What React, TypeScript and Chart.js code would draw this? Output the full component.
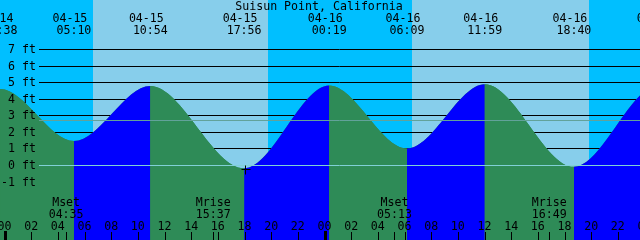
import React, { useEffect, useRef } from 'react';
import { Chart, registerables } from 'chart.js';

Chart.register(...registerables);

// ---------- data ----------
const stationName = 'Suisun Point, California';
// high / low tide events (first and last lie just outside the visible window)
const tideTimes = [
  '04-14 17:12', '04-14 23:38', '04-15 05:10', '04-15 10:54', '04-15 17:56',
  '04-16 00:19', '04-16 06:09', '04-16 11:59', '04-16 18:40', '04-17 00:59', '04-17 07:05',
];
const tideLevels = [-0.25, 4.62, 1.48, 4.8, -0.17, 4.83, 1.03, 4.91, -0.08, 4.8, 0.65];
const sunriseTimes = ['04-15 06:35', '04-16 06:32'];
const sunsetTimes = ['04-15 19:43', '04-16 19:47'];
const moonLabels = ['Mset', 'Mrise', 'Mset', 'Mrise'];
const moonTimes = ['04-15 04:35', '04-15 15:37', '04-16 05:13', '04-16 16:49'];
const levelTicks = [-1, 0, 1, 2, 3, 4, 5, 6, 7];
const tickDays = ['04-15', '04-16', '04-17'];
const hourLabels = ['00', '02', '04', '06', '08', '10', '12', '14', '16', '18', '20', '22'];
const markerTimes = ['04-15 17:56'];
const mslLevel = 2.72;
const datumLevel = 0;
const viewStart = -0.375; // hours from 04-15 00:00
const viewSpan = 48;
const yMin = -4.496;
const yMax = 9.987;

// ---------- style ----------
const W = 640;
const H = 240;
const NIGHT = '#00bfff';
const DAY = '#87ceeb';
const RISE = '#0000ff';
const FALL = '#2e8b57';
const MSL_COLOR = '#62a29a';
const DATUM_COLOR = '#80d0d6';
const FONT = '11.6px "DejaVu Sans Mono", monospace';
const LINE_X0 = 39;

function toHours(s: string): number {
  const [md, hm] = s.split(' ');
  const day = Number(md.split('-')[1]);
  const [h, m] = hm.split(':').map(Number);
  return (day - 15) * 24 + h + m / 60;
}

const tidePoints = tideTimes.map((t, i) => ({ x: toHours(t), y: tideLevels[i] }));

const decorPlugin = {
  id: 'tideDecor',
  beforeDatasetsDraw(chart: any) {
    const { ctx, chartArea: a, scales } = chart;
    const xs = scales.x;
    const ys = scales.y;
    ctx.save();
    ctx.fillStyle = NIGHT;
    ctx.fillRect(a.left, a.top, a.right - a.left, a.bottom - a.top);
    ctx.fillStyle = DAY;
    sunriseTimes.forEach((sr, i) => {
      const x0 = Math.round(xs.getPixelForValue(toHours(sr)));
      const x1 = Math.round(xs.getPixelForValue(toHours(sunsetTimes[i])));
      ctx.fillRect(x0, a.top, x1 - x0, a.bottom - a.top);
    });
    ctx.strokeStyle = '#000';
    ctx.lineWidth = 1;
    levelTicks.forEach((v) => {
      const py = Math.floor(ys.getPixelForValue(v)) + 0.5;
      ctx.beginPath();
      ctx.moveTo(LINE_X0, py);
      ctx.lineTo(a.right, py);
      ctx.stroke();
    });
    ctx.restore();
  },
  afterDatasetsDraw(chart: any) {
    const { ctx, chartArea: a, scales } = chart;
    const xs = scales.x;
    const ys = scales.y;
    ctx.save();
    ctx.lineWidth = 1;
    // MSL and datum lines
    [[mslLevel, MSL_COLOR], [datumLevel, DATUM_COLOR]].forEach(([v, c]) => {
      const py = Math.floor(ys.getPixelForValue(v as number)) + 0.5;
      ctx.strokeStyle = c as string;
      ctx.beginPath();
      ctx.moveTo(LINE_X0, py);
      ctx.lineTo(a.right, py);
      ctx.stroke();
    });

    ctx.fillStyle = '#000';
    ctx.strokeStyle = '#000';
    ctx.font = FONT;
    ctx.textBaseline = 'alphabetic';

    // title
    ctx.textAlign = 'center';
    ctx.fillText(stationName, (a.left + a.right) / 2 - 1, 10);

    // tide event labels
    tideTimes.forEach((t) => {
      const px = xs.getPixelForValue(toHours(t));
      ctx.fillText(t.slice(0, 5), px - 4, 22);
      ctx.fillText(t.slice(6), px, 34);
    });

    // level labels
    ctx.textAlign = 'right';
    levelTicks.forEach((v) => {
      const row = Math.floor(ys.getPixelForValue(v));
      ctx.fillText(`${v} ft`, 36, row + 4);
    });

    // moon events
    ctx.textAlign = 'center';
    moonTimes.forEach((t, i) => {
      const px = xs.getPixelForValue(toHours(t));
      ctx.fillText(moonLabels[i], px, 206);
      ctx.fillText(t.slice(6), px, 218);
      const tx = Math.floor(px) + 0.5;
      ctx.beginPath();
      ctx.moveTo(tx, 232);
      ctx.lineTo(tx, 240);
      ctx.stroke();
    });

    // hour labels and ticks
    tickDays.forEach((d) => {
      hourLabels.forEach((hl) => {
        const px = xs.getPixelForValue(toHours(`${d} ${hl}:00`));
        if (px < a.left - 20 || px > a.right + 20) return;
        ctx.fillText(hl, px - 0.5, 230);
        if (hl === '00') {
          ctx.fillRect(Math.floor(px) - 1, 231, 3, 9);
        } else {
          const tx = Math.floor(px) + 0.5;
          ctx.beginPath();
          ctx.moveTo(tx, 232);
          ctx.lineTo(tx, 240);
          ctx.stroke();
        }
      });
    });

    // marker cross
    markerTimes.forEach((t) => {
      const idx = tideTimes.indexOf(t);
      const cx = Math.floor(xs.getPixelForValue(toHours(t))) + 1.5;
      const cy = Math.floor(ys.getPixelForValue(tideLevels[idx])) + 1.5;
      ctx.beginPath();
      ctx.moveTo(cx - 4, cy);
      ctx.lineTo(cx + 5, cy);
      ctx.moveTo(cx, cy - 4);
      ctx.lineTo(cx, cy + 5);
      ctx.stroke();
    });
    ctx.restore();
  },
};

export default function App() {
  const ref = useRef<HTMLCanvasElement>(null);
  useEffect(() => {
    document.body.style.margin = '0';
    const canvas = ref.current;
    if (!canvas) return;
    const common = {
      data: tidePoints,
      fill: 'start',
      borderColor: 'rgba(0,0,0,0)',
      borderWidth: 0,
      pointRadius: 0,
      pointHoverRadius: 0,
      cubicInterpolationMode: 'monotone',
      capBezierPoints: false,
    };
    const chart = new Chart(canvas, {
      type: 'line',
      data: {
        datasets: [
          {
            ...common,
            backgroundColor: FALL,
            segment: {
              backgroundColor: (c: any) => (c.p1.parsed.y > c.p0.parsed.y ? RISE : FALL),
            },
          } as any,
          // single-colour underlay so segment seams do not show the sky
          {
            ...common,
            backgroundColor: FALL,
          } as any,
        ],
      },
      options: {
        animation: false,
        responsive: false,
        maintainAspectRatio: false,
        devicePixelRatio: 1,
        events: [],
        layout: { padding: 0 },
        scales: {
          x: { type: 'linear', min: viewStart, max: viewStart + viewSpan, display: false },
          y: { type: 'linear', min: yMin, max: yMax, display: false },
        },
        plugins: {
          legend: { display: false },
          tooltip: { enabled: false },
          title: { display: false },
        },
      },
      plugins: [decorPlugin],
    });
    return () => chart.destroy();
  }, []);
  return (
    <div style={{ position: 'fixed', left: 0, top: 0, width: W, height: H }}>
      <canvas ref={ref} width={W} height={H} style={{ display: 'block' }} />
    </div>
  );
}
